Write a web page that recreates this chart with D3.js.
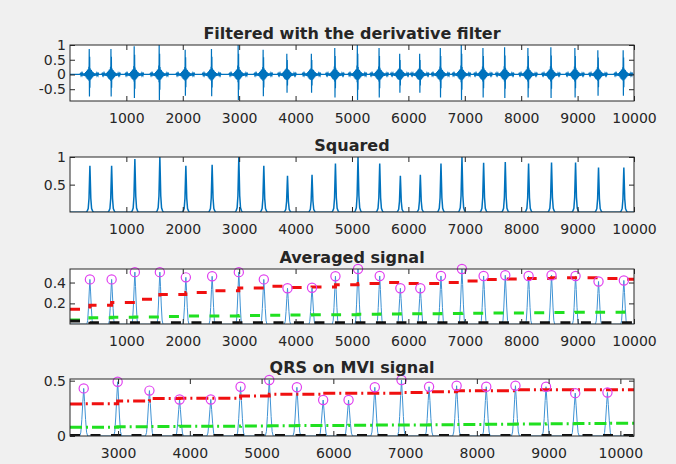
<!DOCTYPE html>
<html><head><meta charset="utf-8">
<script src="https://cdn.jsdelivr.net/npm/d3@7"></script>
<style>
body{margin:0;background:#f0f0f0}
svg{display:block}
text{font-family:"DejaVu Sans",sans-serif;fill:#262626}
</style>
</head><body><svg id="c" width="676" height="464"></svg>
<script>
// ---------------- data ----------------
const peakSamples = [354, 739, 1151, 1594, 2055, 2521, 2994, 3437, 3857, 4292, 4707, 5107,
  5492, 5858, 6212, 6578, 6950, 7334, 7718, 8131, 8538, 8964, 9371, 9820];
const filteredPos = [0.86,0.86,0.96,1.0,0.84,0.86,1.0,0.84,0.7,0.7,0.9,1.0,0.9,0.7,0.7,0.9,1.0,0.9,0.92,0.9,0.92,0.9,0.82,0.82];
const filteredNeg = [-0.75,-0.75,-0.8,-0.87,-0.72,-0.74,-0.87,-0.74,-0.62,-0.62,-0.78,-0.87,-0.78,-0.62,-0.62,-0.78,-0.87,-0.78,-0.8,-0.78,-0.8,-0.78,-0.72,-0.72];
const squaredPeaks = [0.84,0.84,0.965,1.0,0.84,0.86,1.0,0.84,0.66,0.68,0.88,1.0,0.88,0.66,0.68,0.88,1.0,0.895,0.91,0.88,0.9,0.9,0.81,0.81];
const averagedPeaks = [0.43,0.43,0.5,0.5,0.45,0.46,0.5,0.43,0.345,0.35,0.46,0.53,0.463,0.345,0.345,0.463,0.53,0.463,0.47,0.463,0.47,0.463,0.41,0.42];
const avgSigThr   = [0.144,0.182,0.208,0.24,0.285,0.305,0.322,0.348,0.365,0.352,0.358,0.38,0.391,0.4,0.391,0.391,0.4,0.416,0.429,0.434,0.439,0.445,0.445,0.439,0.432];
const avgNoiseThr = [0.04,0.062,0.066,0.07,0.074,0.078,0.08,0.083,0.086,0.088,0.09,0.092,0.095,0.098,0.1,0.101,0.103,0.105,0.107,0.108,0.11,0.112,0.114,0.116,0.118];
const avgNoiseLvl = [0.03,0.015,0.015,0.015,0.015,0.015,0.015,0.015,0.015,0.015,0.015,0.015,0.015,0.015,0.015,0.015,0.015,0.015,0.015,0.015,0.015,0.015,0.015,0.015,0.015];
const mviFirstPeak = 5;
const mviPeaks    = [0.43,0.49,0.41,0.33,0.33,0.445,0.506,0.44,0.325,0.325,0.44,0.506,0.445,0.454,0.445,0.454,0.445,0.387,0.393];
const mviSigThr   = [0.29,0.292,0.316,0.338,0.341,0.341,0.362,0.377,0.377,0.387,0.387,0.387,0.393,0.399,0.408,0.408,0.417,0.417,0.417,0.417];
const mviNoiseThr = [0.08,0.08,0.083,0.085,0.087,0.088,0.09,0.092,0.094,0.095,0.097,0.099,0.1,0.102,0.104,0.106,0.108,0.11,0.112,0.115];
const mviNoiseLvl = [0.004,0.004,0.004,0.004,0.004,0.004,0.004,0.004,0.004,0.004,0.004,0.004,0.004,0.004,0.004,0.004,0.004,0.004,0.004,0.004];
const xTicksFull = [1000,2000,3000,4000,5000,6000,7000,8000,9000,10000];
const xTicksMvi  = [3000,4000,5000,6000,7000,8000,9000,10000];
const yTicks1 = [-0.5,0,0.5,1];
const yTicks2 = [0.5,1];
const yTicks3 = [0.2,0.4];
const yTicks4 = [0,0.5];
const titles = ["Filtered with the derivative filter","Squared","Averaged signal","QRS on MVI signal"];
// beat shapes: [sample offset, relative value, kind]; kind 1 = scaled by positive peak, -1 = by negative peak
const derivTemplate = [[-170,0,0],[-160,0.035,0],[-150,-0.03,0],[-140,0.04,0],[-130,-0.035,0],[-120,0.035,0],[-110,-0.04,0],[-100,0.04,0],[-90,-0.045,0],[-81,0.05,0],[-73,-0.06,0],[-65,0.08,0],[-57,-0.1,0],[-49,0.12,0],[-41,-0.14,0],[-34,0.16,0],[-27,-0.17,0],[-21,0.18,0],[-15,-0.18,0],[-10,0.3,1],[-6,0.3,-1],[-2,1,1],[2,1,-1],[6,0.7,1],[10,0.6,-1],[14,0.25,1],[18,-0.18,0],[24,0.17,0],[30,-0.16,0],[36,0.15,0],[43,-0.13,0],[50,0.11,0],[58,-0.09,0],[66,0.08,0],[75,-0.06,0],[84,0.05,0],[94,-0.045,0],[104,0.04,0],[114,-0.04,0],[124,0.035,0],[134,-0.035,0],[144,0.03,0],[154,-0.035,0],[162,0.03,0],[170,0,0]];
const squaredTemplate = [[-70,0],[-50,0.02],[-30,0.08],[-16,0.3],[-7,0.7],[0,1],[7,0.7],[16,0.3],[30,0.08],[50,0.02],[70,0]];
const averagedTemplate = [[-55,0],[-40,0.08],[-26,0.35],[-12,0.72],[0,1],[12,0.72],[26,0.35],[40,0.08],[55,0]];

// ---------------- layout ----------------
const svg = d3.select("#c");
const X0 = 70, X1 = 634;
const panels = [
  {y0:45, y1:101, xd:[1,10000], yd:[-0.9,1], xt:xTicksFull, yt:yTicks1, title:titles[0]},
  {y0:157, y1:212, xd:[1,10000], yd:[0.005,1], xt:xTicksFull, yt:yTicks2, title:titles[1]},
  {y0:269, y1:324, xd:[1,10000], yd:[0.002,0.53], xt:xTicksFull, yt:yTicks3, title:titles[2]},
  {y0:379, y1:436, xd:[2330,10190], yd:[0,0.515], xt:xTicksMvi, yt:yTicks4, title:titles[3]}
];
const AX = "#262626";
svg.append("rect").attr("width",676).attr("height",464).attr("fill","#f0f0f0");

function buildSignal(xs, amps, tmpl, xd){
  const pts = [[xd[0],0]];
  xs.forEach((x,i)=>tmpl.forEach(t=>pts.push([x+t[0], amps[i]*t[1]])));
  pts.push([xd[1],0]);
  return pts;
}
function buildDeriv(xs, pos, neg, tmpl, xd){
  const pts = [[xd[0],0]];
  xs.forEach((x,i)=>tmpl.forEach(t=>{
    let v = t[1];
    if (t[2]===1) v = t[1]*pos[i]; else if (t[2]===-1) v = t[1]*neg[i];
    pts.push([x+t[0]-10, v]);
  }));
  pts.push([xd[1],0]);
  return pts;
}
function buildSteps(xs, levels, xd){
  const b = [xd[0], ...xs];
  const pts = b.map((x,i)=>[x, levels[i]]);
  pts.push([xd[1], levels[levels.length-1]]);
  return pts;
}

panels.forEach((p,k)=>{
  const x = d3.scaleLinear().domain(p.xd).range([X0,X1]);
  const y = d3.scaleLinear().domain(p.yd).range([p.y1,p.y0]);
  const g = svg.append("g");
  g.append("rect").attr("x",X0).attr("y",p.y0).attr("width",X1-X0).attr("height",p.y1-p.y0).attr("fill","#fff");
  const cid = "clip"+k;
  svg.append("clipPath").attr("id",cid).append("rect").attr("x",X0).attr("y",p.y0).attr("width",X1-X0).attr("height",p.y1-p.y0);
  const data = g.append("g").attr("clip-path",`url(#${cid})`);
  const line = d3.line().x(d=>x(d[0])).y(d=>y(d[1]));
  const step = d3.line().x(d=>x(d[0])).y(d=>y(d[1])).curve(d3.curveStepAfter);

  if (k===0){
    data.append("path").attr("d",line(buildDeriv(peakSamples,filteredPos,filteredNeg,derivTemplate,p.xd)))
      .attr("fill","none").attr("stroke","#0072bd").attr("stroke-width",1.2);
  } else if (k===1){
    data.append("path").attr("d",line(buildSignal(peakSamples,squaredPeaks,squaredTemplate,p.xd)))
      .attr("fill","none").attr("stroke","#0072bd").attr("stroke-width",1.5);
  } else {
    const xs = k===2 ? peakSamples : peakSamples.slice(mviFirstPeak);
    const amps = k===2 ? averagedPeaks : mviPeaks;
    const sig = k===2 ? avgSigThr : mviSigThr;
    const noi = k===2 ? avgNoiseThr : mviNoiseThr;
    const lvl = k===2 ? avgNoiseLvl : mviNoiseLvl;
    const dash = k===2 ? "10,10.5" : "12,4,2,4";
    data.append("path").attr("d",line(buildSignal(xs,amps,averagedTemplate,p.xd)))
      .attr("fill","none").attr("stroke","#3f93d4").attr("stroke-width",1);
    data.append("path").attr("d",step(buildSteps(xs,sig,p.xd)))
      .attr("fill","none").attr("stroke","#f01010").attr("stroke-width",3).attr("stroke-dasharray",dash);
    data.append("path").attr("d",step(buildSteps(xs,noi,p.xd)))
      .attr("fill","none").attr("stroke","#20e020").attr("stroke-width",3).attr("stroke-dasharray",dash);
    data.append("path").attr("d",step(buildSteps(xs,lvl,p.xd)))
      .attr("fill","none").attr("stroke","#111").attr("stroke-width",3).attr("stroke-dasharray","10,10.5");
    g.append("g").selectAll("circle").data(xs.map((s,i)=>[s,amps[i]])).join("circle")
      .attr("cx",d=>x(d[0])).attr("cy",d=>y(d[1])).attr("r",4.6)
      .attr("fill","none").attr("stroke","#e040f0").attr("stroke-width",1.2);
  }

  // axes
  const fs = 14;
  const xb = g.append("g").attr("transform",`translate(0,${p.y1})`)
    .call(d3.axisBottom(x).tickValues(p.xt).tickSize(-5).tickPadding(12).tickFormat(d3.format("d")));
  const xt = g.append("g").attr("transform",`translate(0,${p.y0})`)
    .call(d3.axisTop(x).tickValues(p.xt).tickSize(-5).tickFormat(""));
  const yl = g.append("g").attr("transform",`translate(${X0},0)`)
    .call(d3.axisLeft(y).tickValues(p.yt).tickSize(-5).tickPadding(4).tickFormat(d=>String(d)));
  const yr = g.append("g").attr("transform",`translate(${X1},0)`)
    .call(d3.axisRight(y).tickValues(p.yt).tickSize(-5).tickFormat(""));
  [xb,xt,yl,yr].forEach(a=>{
    a.select(".domain").remove();
    a.selectAll("line").attr("stroke",AX);
    a.selectAll("text").attr("font-size",fs).attr("fill",AX).attr("font-family","DejaVu Sans");
  });
  g.append("rect").attr("x",X0).attr("y",p.y0).attr("width",X1-X0).attr("height",p.y1-p.y0)
    .attr("fill","none").attr("stroke",AX).attr("stroke-width",1);
  g.append("text").attr("x",(X0+X1)/2).attr("y",p.y0-6).attr("text-anchor","middle")
    .attr("font-size",16).attr("font-weight","bold").text(p.title);
});
</script></body></html>
